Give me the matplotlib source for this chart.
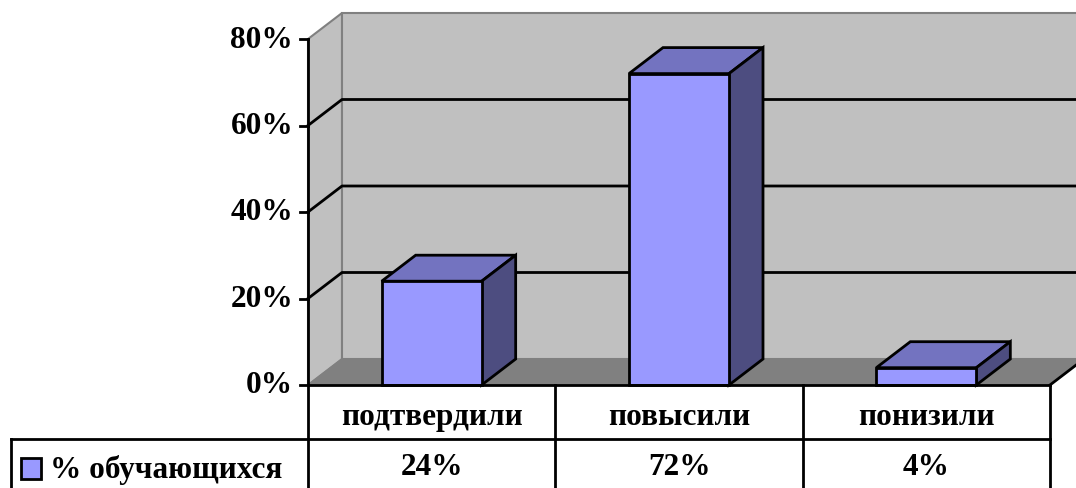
import matplotlib
matplotlib.use("Agg")
import matplotlib.pyplot as plt
from matplotlib.patches import Polygon

categories = ["подтвердили", "повысили", "понизили"]
values = [24, 72, 4]
value_labels = ["24%", "72%", "4%"]
yticks = [0, 20, 40, 60, 80]
ytick_labels = ["0%", "20%", "40%", "60%", "80%"]
series_name = "% обучающихся"

W, H = 1076, 489
plt.rcParams['font.family'] = ['Liberation Serif', 'DejaVu Serif']
plt.rcParams['font.weight'] = 'bold'
FS = 22.5
LW = 2.0

fig = plt.figure(figsize=(W / 100, H / 100), dpi=100)
fig.patch.set_facecolor('white')
# front plane of the 3D plot
ax = fig.add_axes([308 / W, (H - 386) / H, 742 / W, 346 / H])
ax.set_xlim(0, 3)
ax.set_ylim(0, 80)
ax.axis('off')

px_x = 3 / 742.0
px_y = 80 / 346.0
DX = 34 * px_x
DY = 26 * px_y
n = len(categories)
wall = '#C0C0C0'
floor = '#808080'

# side wall
ax.add_patch(Polygon([(0, 0), (DX, DY), (DX, 80 + DY), (0, 80)], closed=True,
                     facecolor=wall, edgecolor='#808080', lw=1.5, clip_on=False, zorder=1))
# back wall
ax.add_patch(Polygon([(DX, DY), (n + DX + 1, DY), (n + DX + 1, 80 + DY), (DX, 80 + DY)], closed=True,
                     facecolor=wall, edgecolor='#808080', lw=1.5, clip_on=False, zorder=1))
# floor
ax.add_patch(Polygon([(0, 0), (n, 0), (n + DX, DY), (DX, DY)], closed=True,
                     facecolor=floor, edgecolor='#808080', lw=1.0, clip_on=False, zorder=2))
ax.plot([n, n + DX], [0, DY], color='black', lw=LW, clip_on=False, zorder=2)

# gridlines
for v in yticks[1:-1]:
    ax.plot([0, DX, n + DX + 1], [v, v + DY, v + DY], color='black', lw=LW,
            clip_on=False, zorder=3)

# bars
bw = 100 * px_x
xs = [i + 0.5 for i in range(n)]
front = '#9999FF'
top = '#7373C0'
side = '#4D4D80'
for x, v in zip(xs, values):
    l, r = x - bw / 2, x + bw / 2
    ax.add_patch(Polygon([(l, v), (r, v), (r + DX, v + DY), (l + DX, v + DY)], closed=True,
                         facecolor=top, edgecolor='black', lw=LW, clip_on=False, zorder=5))
    ax.add_patch(Polygon([(r, 0), (r + DX, DY), (r + DX, v + DY), (r, v)], closed=True,
                         facecolor=side, edgecolor='black', lw=LW, clip_on=False, zorder=5))
ax.bar(xs, values, width=bw, color=front, edgecolor='black', lw=LW, zorder=6, clip_on=False)

# value axis
ax.plot([0, 0], [0, 80], color='black', lw=LW, clip_on=False, zorder=7)
tl = 8 * px_x
for v, lab in zip(yticks, ytick_labels):
    ax.plot([-tl, 0], [v, v], color='black', lw=LW, clip_on=False, zorder=7)
    ax.text(-tl - 7 * px_x, v, lab, ha='right', va='center', fontsize=FS,
            fontweight='bold', clip_on=False)

# data table
row1 = 440
row_h = (row1 - 386) * px_y
ax.plot([0, n], [0, 0], color='black', lw=LW, clip_on=False, zorder=7)
left_legend = -(308 - 11) * px_x
ax.plot([left_legend, n], [-row_h, -row_h], color='black', lw=LW, clip_on=False, zorder=7)
bottom = -(500 - 386) * px_y
for xb in range(n + 1):
    ax.plot([xb, xb], [0, bottom], color='black', lw=LW, clip_on=False, zorder=7)
ax.plot([left_legend, left_legend], [-row_h, bottom], color='black', lw=LW, clip_on=False, zorder=7)

for i, (c, vl) in enumerate(zip(categories, value_labels)):
    ax.text(i + 0.5, -(418 - 386) * px_y, c, ha='center', va='center', fontsize=FS,
            fontweight='bold', clip_on=False)
    ax.text(i + 0.5, -(468 - 386) * px_y, vl, ha='center', va='center', fontsize=FS,
            fontweight='bold', clip_on=False)

# legend key
kx0 = -(308 - 21) * px_x
ax.add_patch(Polygon([(kx0, -(459 - 386) * px_y), (kx0 + 20 * px_x, -(459 - 386) * px_y),
                      (kx0 + 20 * px_x, -(480 - 386) * px_y), (kx0, -(480 - 386) * px_y)],
                     closed=True, facecolor=front, edgecolor='black', lw=LW, clip_on=False, zorder=8))
ax.text(-(308 - 50) * px_x, -(470 - 386) * px_y, series_name, ha='left', va='center',
        fontsize=FS, fontweight='bold', clip_on=False)

fig.savefig('out.png', dpi=100)
